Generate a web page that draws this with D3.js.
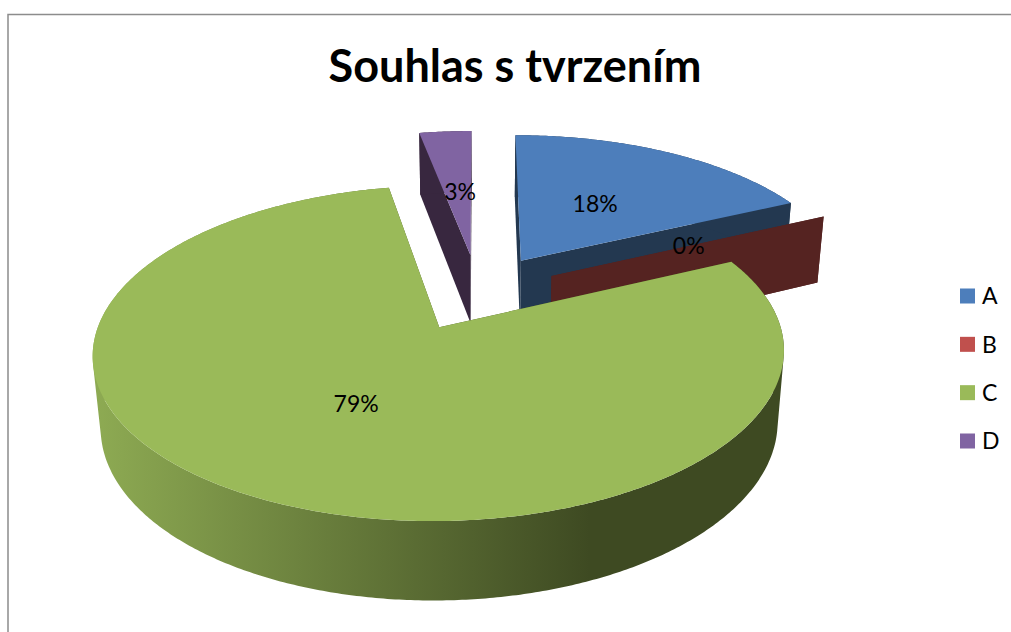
<!DOCTYPE html>
<html>
<head>
<meta charset="utf-8">
<script src="https://cdn.jsdelivr.net/npm/d3@7/dist/d3.min.js"></script>
<style>
  html, body { margin: 0; padding: 0; background: #fff; overflow: hidden; }
  text { font-family: Lato, "Open Sans", sans-serif; fill: #000; }
</style>
</head>
<body>
<div class="chart"></div>
<script>
// Data
var categories = ['A', 'B', 'C', 'D']
var values = [18, 0, 79, 3]
var chartTitle = 'Souhlas s tvrzením'

// Colours
var topColors = ['#4d7ebb', '#c0504d', '#9aba59', '#8064a2']
var faceColors = ['#233850', '#552321', '#47551f', '#38273f']

var width = 1011
var height = 632

// Camera, fitted to the picture
var originX = 478
var originY = 292
var radiusX = 330
var radiusY = 153
var depth = 71
var explode = 0.25
var perspective = 0.15
var perspectiveZ = 0.02

// Small nudges for the percent labels, same order as categories
var labelNudgeX = [-4, -3, 3, 3]
var labelNudgeY = [0, 1, -2, 3]

// Pie world x/y run -1..1 (unit disc), z 0 is top and 1 is the bottom of the pie
function project(x, y, z) {
  var s = 1 / (1 + perspective * y + perspectiveZ * z)
  return [originX + radiusX * x * s, originY + (z * depth - radiusY * y) * s]
}

var slices = d3.pie().sort(null).value(d => d)(values)

slices.forEach(d => {
  var mid = (d.startAngle + d.endAngle) / 2
  d.dx = explode * Math.sin(mid)
  d.dy = explode * Math.cos(mid)
  d.mid = mid
})

function polar(d, angle, r, z) {
  return project(d.dx + r * Math.sin(angle), d.dy + r * Math.cos(angle), z)
}

function rim(d, z) {
  var steps = Math.max(1, Math.ceil((d.endAngle - d.startAngle) / 0.01))
  var angle = d3.scaleLinear().domain([0, steps]).range([d.startAngle, d.endAngle])
  return d3.range(steps + 1).map(i => polar(d, angle(i), 1, z))
}

var line = d3.line()

// One path of same-direction strips: no seams, and the fold at the sides stays filled
function wallPath(topRim, bottomRim) {
  return d3.range(topRim.length - 1).map(k => {
    var quad = [topRim[k], topRim[k + 1], bottomRim[k + 1], bottomRim[k]]
    if (d3.polygonArea(quad) < 0) quad.reverse()
    return line(quad) + 'Z'
  }).join('')
}

var svg = d3.select('.chart')
  .append('svg')
  .attr('width', width)
  .attr('height', height)
  .style('display', 'block')

// Side wall shading of the big slice
var shade = svg.append('defs')
  .append('linearGradient')
  .attr('id', 'wallC')
  .attr('gradientUnits', 'userSpaceOnUse')
  .attr('x1', 92).attr('x2', 590)
  .attr('y1', 0).attr('y2', 0)
shade.append('stop').attr('offset', 0).attr('stop-color', '#8eab53')
shade.append('stop').attr('offset', 1).attr('stop-color', '#3e4a22')

// Frame, cut by the window on the right and at the bottom
svg.append('path')
  .attr('d', 'M' + width + ',14.5H8V' + height)
  .attr('fill', 'none')
  .attr('stroke', '#8c8c8c')
  .attr('stroke-width', 1.5)

// Back slices first, the big one goes over them
var drawOrder = [0, 3, 1, 2]

drawOrder.forEach(i => {
  var d = slices[i]
  var g = svg.append('g').attr('class', 'slice-' + categories[i])
  var topRim = rim(d, 0)
  var bottomRim = rim(d, 1)

  // Cut faces
  ;[d.startAngle, d.endAngle].forEach(a => {
    g.append('path')
      .attr('d', line([polar(d, a, 0, 0), polar(d, a, 1, 0), polar(d, a, 1, 1), polar(d, a, 0, 1)]) + 'Z')
      .attr('fill', faceColors[i])
  })

  if (d.endAngle > d.startAngle) {
    // Outer wall
    g.append('path')
      .attr('d', wallPath(topRim, bottomRim))
      .attr('fill', i === 2 ? 'url(#wallC)' : faceColors[i])

    // Top
    g.append('path')
      .attr('d', line([polar(d, d.startAngle, 0, 0)].concat(topRim)) + 'Z')
      .attr('fill', topColors[i])
  }
})

// Percent labels
svg.selectAll('.pct')
  .data(slices)
  .enter()
  .append('text')
  .attr('class', 'pct')
  .attr('x', (d, i) => polar(d, d.mid, 0.5, 0)[0] + labelNudgeX[i])
  .attr('y', (d, i) => polar(d, d.mid, 0.5, 0)[1] + labelNudgeY[i])
  .attr('dy', '0.35em')
  .attr('text-anchor', 'middle')
  .attr('font-size', 23)
  .text(d => d.value + '%')

// Title
svg.append('text')
  .attr('x', 515)
  .attr('y', 82)
  .attr('text-anchor', 'middle')
  .attr('font-size', 45)
  .attr('font-weight', 700)
  .text(chartTitle)

// Legend
var legendY = d3.scalePoint().domain(categories).range([296, 441])

var legend = svg.selectAll('.legend')
  .data(categories)
  .enter()
  .append('g')
  .attr('class', 'legend')
  .attr('transform', d => 'translate(960,' + legendY(d) + ')')

legend.append('rect')
  .attr('y', -7.5)
  .attr('width', 15)
  .attr('height', 15)
  .attr('fill', (d, i) => topColors[i])

legend.append('text')
  .attr('x', 22)
  .attr('dy', '0.36em')
  .attr('font-size', 23)
  .text(d => d)
</script>
</body>
</html>
